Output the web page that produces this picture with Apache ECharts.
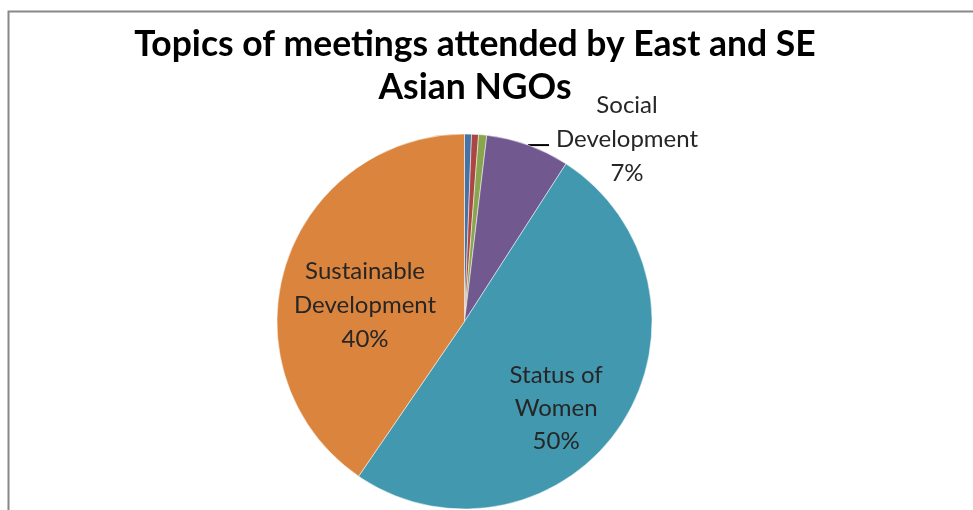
<!DOCTYPE html>
<html>
<head>
<meta charset="utf-8">
<script src="https://cdn.jsdelivr.net/npm/echarts@6/dist/echarts.min.js"></script>
<style>
  html, body { margin: 0; padding: 0; background: #ffffff; }
  #chart { width: 973px; height: 510px; }
</style>
</head>
<body>
<div id="chart"></div>
<script>
// Meeting topics (share of meetings, %), clockwise from 12 o'clock
const topics = ['Topic A', 'Topic B', 'Topic C', 'Social Development', 'Status of Women', 'Sustainable Development'];
const shares = [0.6, 0.6, 0.7, 7.2, 50.45, 40.45];
const colors = ['#4572A7', '#AA4643', '#89A54E', '#71588F', '#4198AF', '#DB843D'];
// which slices carry a data label
const labelled = [false, false, false, true, true, true];

const FONT = 'Lato, "Noto Sans", sans-serif';
const TEXT = '#262626';
const LABEL_SIZE = 24;

// label placement per labelled slice
const labelStyle = {
  'Social Development': {
    show: true, position: 'outside', fontSize: LABEL_SIZE, color: TEXT, fontFamily: FONT,
    padding: [0, 0, 12, 0],
    formatter: p => '{c|Social}\n{c|Development}\n{c|' + Math.round(p.value) + '%}',
    rich: { c: { width: 146, align: 'center', fontSize: LABEL_SIZE, lineHeight: 34, color: TEXT, fontFamily: FONT } }
  },
  'Status of Women': {
    show: true, position: 'inside', offset: [11, 33], fontSize: LABEL_SIZE, lineHeight: 33, color: TEXT, fontFamily: FONT,
    formatter: p => 'Status of\nWomen\n' + Math.round(p.value) + '%'
  },
  'Sustainable Development': {
    show: true, position: 'inside', offset: [-7, 12], fontSize: LABEL_SIZE, lineHeight: 34, color: TEXT, fontFamily: FONT,
    formatter: p => 'Sustainable\nDevelopment\n' + Math.round(p.value) + '%'
  }
};

const data = topics.map((name, i) => ({
  name,
  value: shares[i],
  itemStyle: { color: colors[i] },
  label: labelled[i] ? labelStyle[name] : { show: false },
  labelLine: labelled[i] && labelStyle[name].position === 'outside'
    ? { show: true, length: 0, length2: 21, lineStyle: { color: '#000', width: 2 } }
    : { show: false }
}));

const chart = echarts.init(document.getElementById('chart'), null, { renderer: 'canvas' });
chart.setOption({
  backgroundColor: '#ffffff',
  animation: false,
  title: {
    text: 'Topics of meetings attended by East and SE\nAsian NGOs',
    left: 470,
    top: 18,
    textAlign: 'center',
    textStyle: { fontFamily: FONT, fontWeight: 'bold', fontSize: 35.5, lineHeight: 43, color: '#000' }
  },
  graphic: [{
    type: 'polyline',
    shape: { points: [[8.5, 510], [8.5, 11.5], [973, 11.5]] },
    style: { stroke: '#888888', lineWidth: 2, fill: null },
    silent: true
  }],
  series: [{
    type: 'pie',
    center: [464.5, 321.5],
    radius: [0, 187.5],
    startAngle: 90,
    clockwise: true,
    avoidLabelOverlap: false,
    itemStyle: { borderColor: '#ffffff', borderWidth: 0.5 },
    emphasis: { disabled: true },
    data
  }]
});
</script>
</body>
</html>
